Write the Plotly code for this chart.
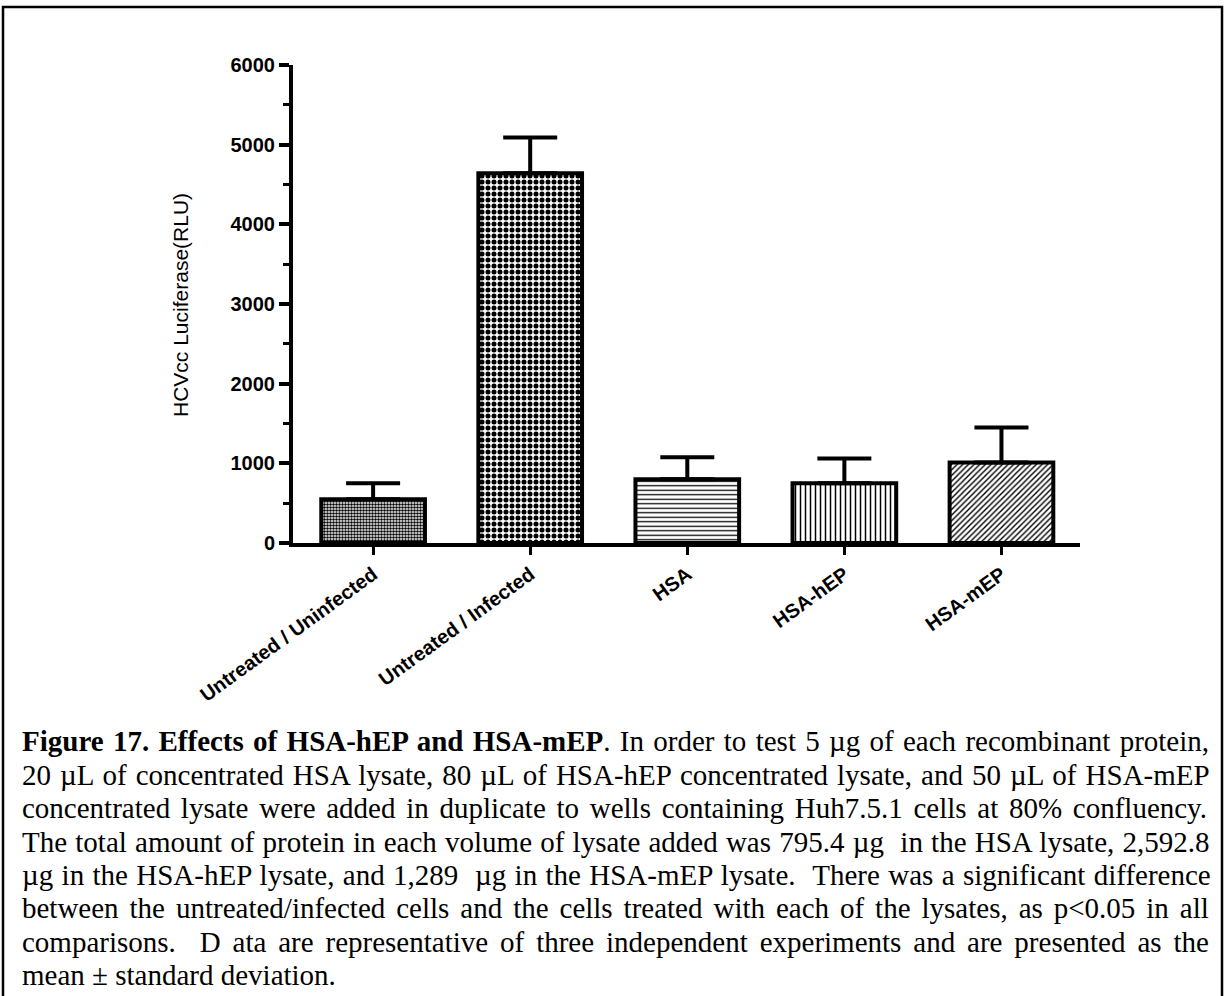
import plotly.graph_objects as go

# ---------------- data ----------------
categories = ["Untreated / Uninfected", "Untreated / Infected", "HSA", "HSA-hEP", "HSA-mEP"]
means = [550, 4640, 800, 750, 1010]
sd_upper = [200, 450, 275, 310, 440]
y_tick_vals = [0, 1000, 2000, 3000, 4000, 5000, 6000]
y_title = "HCVcc Luciferase(RLU)"

caption_bold = "Figure 17. Effects of HSA-hEP and HSA-mEP"
caption_lines = [
    ". In order to test 5 \u00b5g of each recombinant protein,",
    "20 \u00b5L of concentrated HSA lysate, 80 \u00b5L of HSA-hEP concentrated lysate, and 50 \u00b5L of HSA-mEP",
    "concentrated lysate were added in duplicate to wells containing Huh7.5.1 cells at 80% confluency.",
    "The total amount of protein in each volume of lysate added was 795.4 \u00b5g \u00a0in the HSA lysate, 2,592.8",
    "\u00b5g in the HSA-hEP lysate, and 1,289 \u00a0\u00b5g in the HSA-mEP lysate. \u00a0There was a significant difference",
    "between the untreated/infected cells and the cells treated with each of the lysates, as p<0.05 in all",
    "comparisons. \u00a0D ata are representative of three independent experiments and are presented as the",
    "mean \u00b1 standard deviation.",
]
justified = [True, True, True, True, True, True, True, False]

# bar fill patterns
pat_shapes = [".", ".", "-", "|", "/"]
pat_sizes = [3, 6, 4.5, 5, 4]
pat_solid = [0.55, 0.55, 0.28, 0.3, 0.35]

# ---------------- layout geometry (pixels) ----------------
W, H = 1225, 996
PL, PR, PT, PB = 293, 1080, 65, 543


def px_x(x):
    return (x - PL) / (PR - PL)


def px_y(y):
    return (PB - y) / (PB - PT)


# Times (Liberation Serif) advance widths, em/1000
TR = {" ": 250, "\u00a0": 250, ",": 250, ".": 250, "-": 333, "/": 278, "%": 833, "<": 564,
      "\u00b5": 500, "\u00b1": 549, "(": 333, ")": 333}
for c in "0123456789":
    TR[c] = 500
TR.update(dict(zip("abcdefghijklmnopqrstuvwxyz",
                   [444, 500, 444, 500, 444, 333, 500, 500, 278, 278, 500, 278, 778, 500, 500, 500, 500, 333, 389, 278, 500, 500, 722, 500, 500, 444])))
TR.update(dict(zip("ABCDEFGHIJKLMNOPQRSTUVWXYZ",
                   [722, 667, 667, 722, 611, 556, 722, 722, 333, 389, 722, 611, 889, 722, 722, 556, 722, 667, 556, 611, 722, 722, 944, 722, 722, 611])))
TB = {" ": 250, ".": 250, "-": 333}
for c in "0123456789":
    TB[c] = 500
TB.update({"F": 611, "E": 667, "H": 778, "S": 556, "A": 722, "P": 611,
           "a": 500, "c": 444, "d": 556, "e": 444, "f": 333, "g": 500, "h": 556, "i": 278,
           "m": 833, "n": 556, "o": 500, "r": 444, "s": 389, "t": 333, "u": 556})


def text_w(s, table, fs):
    return sum(table.get(c, 500) for c in s) * fs / 1000.0


fig = go.Figure()
fig.add_trace(go.Bar(
    x=categories, y=means,
    width=0.66,
    marker=dict(
        color="white",
        line=dict(color="black", width=4),
        pattern=dict(shape=pat_shapes, size=pat_sizes, solidity=pat_solid,
                     fgcolor="black", bgcolor="white", fillmode="replace"),
    ),
    error_y=dict(type="data", symmetric=False, array=sd_upper,
                 arrayminus=[0] * len(sd_upper), color="black", thickness=4, width=27),
    showlegend=False,
))

fig.update_layout(
    width=W, height=H,
    margin=dict(l=PL, r=W - PR, t=PT, b=H - PB, pad=0),
    paper_bgcolor="white", plot_bgcolor="white",
    font=dict(family="Liberation Sans, Arial, sans-serif", color="black"),
    bargap=0.3,
)
fig.update_xaxes(
    range=[-0.51, 4.5], showgrid=False, zeroline=False,
    showline=True, linecolor="black", linewidth=4,
    ticks="outside", ticklen=8, tickwidth=3, tickcolor="black",
    tickangle=-36,
    tickfont=dict(family="Liberation Sans, Arial, sans-serif", size=20, color="black", weight="bold"),
)
fig.update_yaxes(
    range=[0, 6000], showgrid=False, zeroline=False,
    showline=True, linecolor="black", linewidth=4,
    tickvals=y_tick_vals, ticks="outside", ticklen=10, tickwidth=3.5, tickcolor="black",
    minor=dict(dtick=500, ticks="outside", ticklen=6, tickwidth=3, tickcolor="black"),
    tickfont=dict(family="Liberation Sans, Arial, sans-serif", size=20, color="black", weight="bold"),
)

# y axis title as annotation
fig.add_annotation(
    text=y_title, textangle=-90, showarrow=False,
    xref="paper", yref="paper", x=px_x(180), y=px_y(305),
    xanchor="center", yanchor="middle",
    font=dict(family="Liberation Sans, Arial, sans-serif", size=21, color="black"),
)

# caption
FS = 29
LEFT, RIGHT = 21, 1208
base0, step = 751, 33.45
for i, line in enumerate(caption_lines):
    if i == 0:
        nat = text_w(caption_bold, TB, FS) + text_w(line, TR, FS)
        nspace = caption_bold.count(" ") + line.count(" ") + line.count("\u00a0")
        inner = "<b>" + caption_bold + "</b>" + line
    else:
        nat = text_w(line, TR, FS)
        nspace = line.count(" ") + line.count("\u00a0")
        inner = line
    if justified[i]:
        ws = (RIGHT - LEFT - nat) / nspace
        txt = '<span style="word-spacing:%.2fpx">%s</span>' % (ws, inner)
    else:
        txt = inner
    baseline = base0 + i * step
    fig.add_annotation(
        text=txt, showarrow=False, xref="paper", yref="paper",
        x=px_x(LEFT), y=px_y(baseline - 0.3375 * FS),
        xanchor="left", yanchor="middle", align="left", borderpad=0,
        font=dict(family="Liberation Serif, Times New Roman, serif", size=FS, color="black"),
    )

# figure frame
fig.add_shape(type="rect", xref="paper", yref="paper",
              x0=px_x(3), x1=px_x(1222), y0=px_y(1000), y1=px_y(7),
              line=dict(color="black", width=2.5), fillcolor="rgba(0,0,0,0)", layer="below")

fig.write_html("out.html")
